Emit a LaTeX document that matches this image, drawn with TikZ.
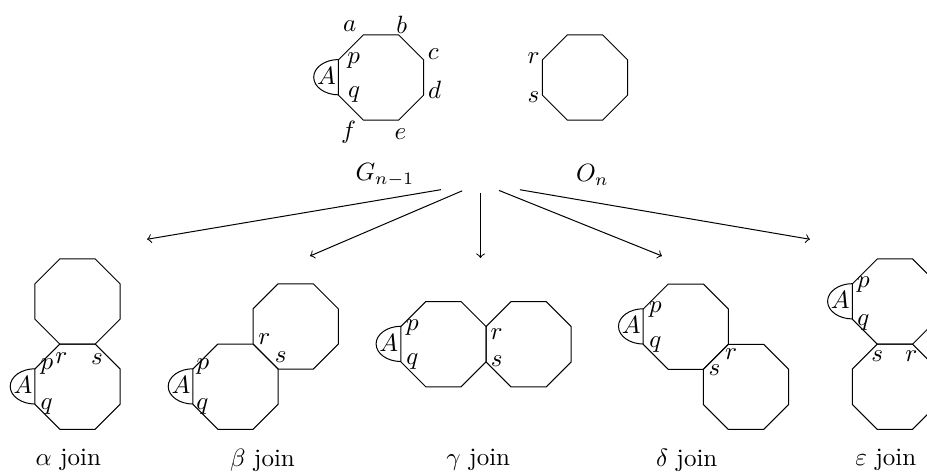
\documentclass[tikz,border=0pt]{standalone}
\usepackage{tikz}
\usetikzlibrary{shapes.geometric,calc}

\begin{document}
\begin{tikzpicture}[x=0.4pt, y=0.4pt,
  oct/.style={regular polygon, regular polygon sides=8, draw, minimum size=36.89pt,
    inner sep=0pt, outer sep=0pt},
  vlbl/.style={inner sep=0pt},
  jcap/.style={inner sep=0pt},
  arr/.style={->},
]
\useasboundingbox (0,0) rectangle (927,472);
% Top row
\node[oct] (G) at (381,394.5) {};
\node[oct] (O) at (585,394.5) {};
\node[jcap] (Gn) at (385,297) {$G_{n-1}$};
\node[jcap] (On) at (592.5,297) {$O_n$};
\node[vlbl] (Ga) at ($(G.112.5)+(-14,9)$) {$a$};
\node[vlbl] (Gb) at ($(G.67.5)+(2.7,10)$) {$b$};
\node[vlbl] (Gc) at ($(G.22.5)+(9.7,5.7)$) {$c$};
\node[vlbl] (Gd) at ($(G.337.5)+(11.4,6)$) {$d$};
\node[vlbl] (Ge) at ($(G.292.5)+(2.2,-14)$) {$e$};
\node[vlbl] (Gf) at ($(G.247.5)+(-14.4,-12.4)$) {$f$};
\node[vlbl] (Gp) at ($(G.157.5)+(15,-1)$) {$p$};
\node[vlbl] (Gq) at ($(G.202.5)+(15.8,0)$) {$q$};
\node[vlbl] (Or) at ($(O.157.5)+(-9,1)$) {$r$};
\node[vlbl] (Os) at ($(O.202.5)+(-9,-2.3)$) {$s$};
% Joins
\node[oct] (a1) at (77.5,85.3) {};
\node[oct] (a2) at (77.5,170.5) {};
\node[oct] (b1) at (235.5,85.3) {};
\node[oct] (b2) at (295.7,145.5) {};
\node[oct] (c1) at (443.4,127.8) {};
\node[oct] (c2) at (528.6,127.8) {};
\node[oct] (d1) at (685.8,145.3) {};
\node[oct] (d2) at (746,85.1) {};
\node[oct] (e1) at (894.9,170.4) {};
\node[oct] (e2) at (894.9,85.2) {};
% alpha
\node[vlbl] (ap) at ($(a1.157.5)+(11.8,2.4)$) {$p$};
\node[vlbl] (aq) at ($(a1.202.5)+(11.8,-2.4)$) {$q$};
\node[vlbl] (ar) at ($(a1.112.5)+(1,-14)$) {$r$};
\node[vlbl] (as) at ($(a1.67.5)+(1.5,-15)$) {$s$};
% beta
\node[vlbl] (bp) at ($(b1.157.5)+(9.6,2.3)$) {$p$};
\node[vlbl] (bq) at ($(b1.202.5)+(9.6,-2.3)$) {$q$};
\node[vlbl] (br) at ($(b1.67.5)+(11,5.4)$) {$r$};
\node[vlbl] (bs) at ($(b1.22.5)+(2.7,12.5)$) {$s$};
% gamma
\node[vlbl] (cp) at ($(c1.157.5)+(11.4,-1)$) {$p$};
\node[vlbl] (cq) at ($(c1.202.5)+(11.7,-0.6)$) {$q$};
\node[vlbl] (cr) at ($(c1.22.5)+(10.7,-6.8)$) {$r$};
\node[vlbl] (cs) at ($(c1.337.5)+(11,1)$) {$s$};
% delta
\node[vlbl] (dp) at ($(d1.157.5)+(11.8,-1)$) {$p$};
\node[vlbl] (dq) at ($(d1.202.5)+(12.3,-0.7)$) {$q$};
\node[vlbl] (dr) at ($(d1.337.5)+(3,-9.8)$) {$r$};
\node[vlbl] (ds) at ($(d1.292.5)+(11.5,-1)$) {$s$};
% epsilon
\node[vlbl] (ep) at ($(e1.157.5)+(10.7,-1)$) {$p$};
\node[vlbl] (eq) at ($(e1.202.5)+(11,-3.3)$) {$q$};
\node[vlbl] (es) at ($(e1.247.5)+(0.3,-12.5)$) {$s$};
\node[vlbl] (er) at ($(e1.292.5)+(-0.8,-12.3)$) {$r$};
% The A caps
\foreach \o in {G,a1,b1,c1,d1,e1}{
  \draw (\o.157.5) arc[start angle=90, end angle=270, x radius=10pt, y radius=7.06pt];
  \node[vlbl] (A\o) at ($(\o.west)+(-12,1.5)$) {$A$};
}
% Captions
\node[jcap] (ja) at (68.3,12) {$\alpha$ join};
\node[jcap] (jb) at (262.5,12) {$\beta$ join};
\node[jcap] (jc) at (478.3,12) {$\gamma$ join};
\node[jcap] (jd) at (686.7,12) {$\delta$ join};
\node[jcap] (je) at (885.8,12) {$\varepsilon$ join};
% Arrows
\coordinate (hub) at (480.5,289);
\coordinate (ta) at (147,232.7);
\coordinate (tb) at (310,216);
\coordinate (tc) at (480.5,214);
\coordinate (td) at (662,216);
\coordinate (te) at (810,232.7);
\draw[arr, shorten <=16pt] (hub) -- (ta);
\draw[arr, shorten <=8pt] (hub) -- (tb);
\draw[arr, shorten <=4pt] (hub) -- (tc);
\draw[arr, shorten <=8pt] (hub) -- (td);
\draw[arr, shorten <=16pt] (hub) -- (te);
\end{tikzpicture}
\end{document}
